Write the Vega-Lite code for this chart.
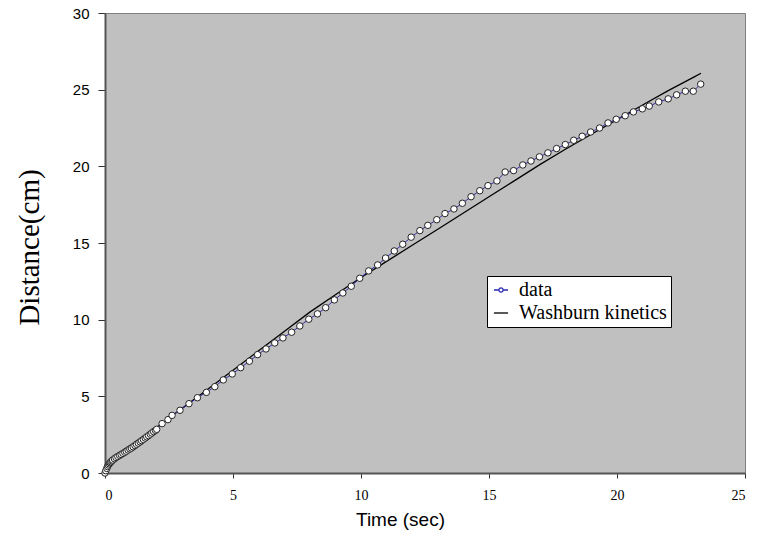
{
  "$schema": "https://vega.github.io/schema/vega-lite/v6.json",
  "width": 640,
  "height": 460,
  "autosize": {"type": "none"},
  "padding": {"left": 105, "top": 13, "right": 20, "bottom": 66},
  "background": "white",
  "config": {
    "view": {"fill": "#C0C0C0", "stroke": "#7f7f7f", "strokeWidth": 1},
    "axis": {"grid": false, "domainColor": "#555555", "domainWidth": 2, "tickColor": "#333333", "labelColor": "black", "titleColor": "black", "titleFontWeight": "normal"}
  },
  "datasets": {
    "measured": [
      {"t": 0, "d": 0}, {"t": 0.03, "d": 0.15}, {"t": 0.07, "d": 0.3}, {"t": 0.1, "d": 0.42}, {"t": 0.13, "d": 0.52},
      {"t": 0.17, "d": 0.6}, {"t": 0.2, "d": 0.67}, {"t": 0.23, "d": 0.73}, {"t": 0.27, "d": 0.79}, {"t": 0.3, "d": 0.85},
      {"t": 0.37, "d": 0.93}, {"t": 0.43, "d": 1.01}, {"t": 0.5, "d": 1.08}, {"t": 0.57, "d": 1.15}, {"t": 0.63, "d": 1.21},
      {"t": 0.7, "d": 1.28}, {"t": 0.77, "d": 1.35}, {"t": 0.83, "d": 1.42}, {"t": 0.9, "d": 1.5}, {"t": 0.97, "d": 1.57},
      {"t": 1.03, "d": 1.63}, {"t": 1.1, "d": 1.71}, {"t": 1.17, "d": 1.79}, {"t": 1.23, "d": 1.87}, {"t": 1.3, "d": 1.95},
      {"t": 1.37, "d": 2.03}, {"t": 1.43, "d": 2.11}, {"t": 1.5, "d": 2.19}, {"t": 1.57, "d": 2.28}, {"t": 1.63, "d": 2.36},
      {"t": 1.7, "d": 2.44}, {"t": 1.77, "d": 2.53}, {"t": 1.83, "d": 2.61}, {"t": 1.9, "d": 2.7}, {"t": 1.97, "d": 2.78},
      {"t": 2.02, "d": 2.85}, {"t": 2.23, "d": 3.22}, {"t": 2.46, "d": 3.48}, {"t": 2.62, "d": 3.76}, {"t": 2.93, "d": 4.09},
      {"t": 3.28, "d": 4.52}, {"t": 3.61, "d": 4.91}, {"t": 3.96, "d": 5.26}, {"t": 4.29, "d": 5.63}, {"t": 4.62, "d": 6.07},
      {"t": 4.97, "d": 6.46}, {"t": 5.3, "d": 6.87}, {"t": 5.64, "d": 7.29}, {"t": 5.96, "d": 7.72}, {"t": 6.29, "d": 8.09},
      {"t": 6.63, "d": 8.48}, {"t": 6.95, "d": 8.81}, {"t": 7.29, "d": 9.18}, {"t": 7.61, "d": 9.59}, {"t": 7.96, "d": 10.03},
      {"t": 8.3, "d": 10.38}, {"t": 8.62, "d": 10.78}, {"t": 8.96, "d": 11.29}, {"t": 9.29, "d": 11.74}, {"t": 9.62, "d": 12.18},
      {"t": 9.95, "d": 12.7}, {"t": 10.3, "d": 13.18}, {"t": 10.65, "d": 13.57}, {"t": 10.96, "d": 14.02}, {"t": 11.3, "d": 14.48},
      {"t": 11.63, "d": 14.92}, {"t": 11.96, "d": 15.38}, {"t": 12.3, "d": 15.81}, {"t": 12.61, "d": 16.15}, {"t": 12.96, "d": 16.52},
      {"t": 13.28, "d": 16.92}, {"t": 13.63, "d": 17.22}, {"t": 13.96, "d": 17.59}, {"t": 14.3, "d": 18.02}, {"t": 14.64, "d": 18.41},
      {"t": 14.96, "d": 18.74}, {"t": 15.31, "d": 19.05}, {"t": 15.63, "d": 19.63}, {"t": 15.96, "d": 19.72}, {"t": 16.32, "d": 20.09},
      {"t": 16.64, "d": 20.35}, {"t": 16.97, "d": 20.62}, {"t": 17.3, "d": 20.88}, {"t": 17.64, "d": 21.16}, {"t": 17.98, "d": 21.42},
      {"t": 18.31, "d": 21.7}, {"t": 18.64, "d": 21.96}, {"t": 18.97, "d": 22.24}, {"t": 19.32, "d": 22.5}, {"t": 19.65, "d": 22.83},
      {"t": 19.97, "d": 23.07}, {"t": 20.32, "d": 23.3}, {"t": 20.64, "d": 23.55}, {"t": 20.99, "d": 23.75}, {"t": 21.26, "d": 23.93},
      {"t": 21.63, "d": 24.2}, {"t": 22.0, "d": 24.4}, {"t": 22.33, "d": 24.66}, {"t": 22.67, "d": 24.9}, {"t": 22.98, "d": 24.9},
      {"t": 23.27, "d": 25.36}
    ],
    "model": [
      {"t": 0, "d": 0}, {"t": 0.05, "d": 0.25}, {"t": 0.2, "d": 0.6}, {"t": 0.5, "d": 1.05}, {"t": 1, "d": 1.68},
      {"t": 2, "d": 2.95}, {"t": 3, "d": 4.2}, {"t": 4, "d": 5.45}, {"t": 5, "d": 6.7}, {"t": 6, "d": 7.97},
      {"t": 7, "d": 9.23}, {"t": 8, "d": 10.49}, {"t": 9, "d": 11.62}, {"t": 10, "d": 12.75}, {"t": 11, "d": 13.8},
      {"t": 12, "d": 14.85}, {"t": 13, "d": 15.9}, {"t": 14, "d": 16.96}, {"t": 15, "d": 18.02}, {"t": 16, "d": 19.07},
      {"t": 17, "d": 20.13}, {"t": 18, "d": 21.13}, {"t": 19, "d": 22.09}, {"t": 20, "d": 23.05}, {"t": 21, "d": 24.0},
      {"t": 22, "d": 24.94}, {"t": 23, "d": 25.82}, {"t": 23.28, "d": 26.07}
    ]
  },
  "layer": [
    {
      "data": {"name": "model"},
      "transform": [{"calculate": "'Washburn kinetics'", "as": "series"}],
      "mark": {"type": "line", "strokeWidth": 1.3, "clip": true},
      "encoding": {
        "x": {"field": "t", "type": "quantitative", "scale": {"domain": [0, 25], "nice": false},
          "axis": {"values": [0, 5, 10, 15, 20, 25], "title": "Time (sec)", "labelFont": "Liberation Serif", "labelFontSize": 14, "tickSize": 5, "labelPadding": 10,
            "titleFont": "Liberation Sans", "titleFontSize": 19, "titleX": 295, "titleY": 46, "titleAlign": "center", "titleBaseline": "middle"}},
        "y": {"field": "d", "type": "quantitative", "scale": {"domain": [0, 30], "nice": false},
          "axis": {"values": [0, 5, 10, 15, 20, 25, 30], "title": "Distance(cm)", "labelFont": "Liberation Sans", "labelFontSize": 15, "tickSize": 7, "labelPadding": 9,
            "titleFont": "Liberation Serif", "titleFontSize": 29, "titleX": -76, "titleY": 234, "titleAlign": "center", "titleBaseline": "middle", "titleAngle": -90}},
        "color": {"field": "series", "type": "nominal",
          "scale": {"domain": ["data", "Washburn kinetics"], "range": ["#2b2bb0", "#000000"]},
          "legend": {"title": null, "orient": "none", "legendX": 382, "legendY": 263, "fillColor": "white", "strokeColor": "black", "padding": 4, "cornerRadius": 0,
            "labelFont": "Liberation Serif", "labelFontSize": 20, "labelLimit": 400, "labelColor": "black", "symbolType": "stroke", "symbolSize": 200, "symbolStrokeWidth": 1.3, "rowPadding": 3, "labelOffset": 8,
            "encode": {"symbols": {"update": {
              "shape": {"signal": "datum.value === 'data' ? 'M-1,0H-0.3M0.3,0H1M-0.3,0A0.3,0.3,0,1,1,0.3,0A0.3,0.3,0,1,1,-0.3,0' : 'stroke'"},
              "fill": {"signal": "datum.value === 'data' ? 'white' : 'transparent'"}
            }}}}
        }
      }
    },
    {
      "data": {"name": "measured"},
      "transform": [{"calculate": "'data'", "as": "series"}],
      "mark": {"type": "line", "strokeWidth": 1},
      "encoding": {
        "x": {"field": "t", "type": "quantitative"},
        "y": {"field": "d", "type": "quantitative"},
        "color": {"field": "series", "type": "nominal"}
      }
    },
    {
      "data": {"name": "measured"},
      "mark": {"type": "point", "shape": "circle", "filled": true, "fill": "white", "stroke": "#222222", "strokeWidth": 1, "size": 42, "opacity": 1},
      "encoding": {
        "x": {"field": "t", "type": "quantitative"},
        "y": {"field": "d", "type": "quantitative"}
      }
    }
  ]
}
